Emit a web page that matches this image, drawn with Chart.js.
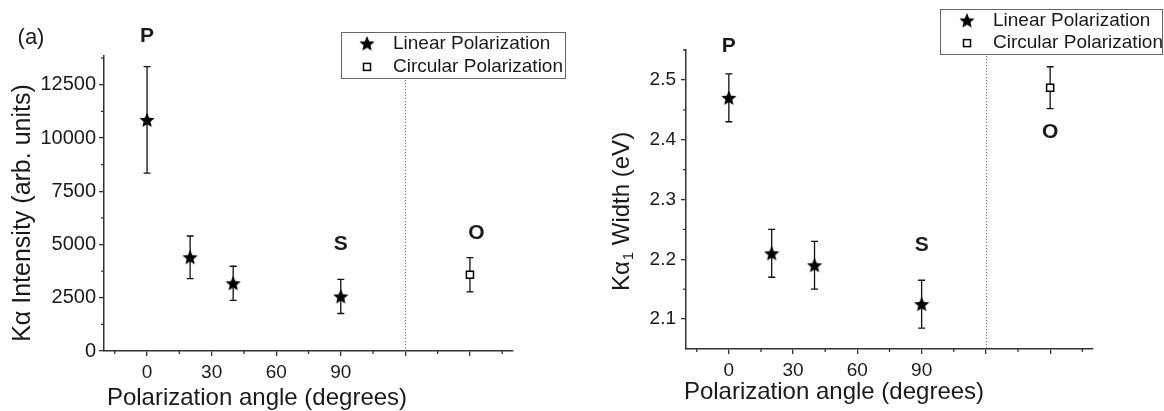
<!DOCTYPE html>
<html><head><meta charset="utf-8">
<script src="https://cdn.jsdelivr.net/npm/chart.js@4.4.1/dist/chart.umd.min.js"></script>
<style>
html,body{margin:0;padding:0;background:#fff;}
#wrap{position:relative;width:1164px;height:411px;overflow:hidden;}
canvas{position:absolute;top:0;}
</style></head><body>
<div id="wrap">
<canvas id="ca" width="582" height="411" style="left:0px"></canvas>
<canvas id="cb" width="582" height="411" style="left:582px"></canvas>
</div>
<script>
// ---------------- data ----------------
const angles = [0, 20, 40, 90];
const circularAngle = [150];
const intensityLinear = [10850, 4400, 3180, 2560];
const intensityLinearErr = [2500, 1000, 800, 800];
const intensityCircular = [3580];
const intensityCircularErr = [800];
const widthLinear = [2.47, 2.21, 2.19, 2.125];
const widthLinearErr = [0.04, 0.04, 0.04, 0.04];
const widthCircular = [2.487];
const widthCircularErr = [0.035];

const xMajorTicks = [0, 30, 60, 90, 120, 150];
const xTickLabels = ['0', '30', '60', '90', '', ''];
const xMinorTicks = [-15, 15, 45, 75, 105, 135, 165];
const intensityTicks = [0, 2500, 5000, 7500, 10000, 12500];
const intensityTickLabels = ['0', '2500', '5000', '7500', '10000', '12500'];
const intensityMinorTicks = [1250, 3750, 6250, 8750, 11250, 13750];
const widthTicks = [2.1, 2.2, 2.3, 2.4, 2.5];
const widthTickLabels = ['2.1', '2.2', '2.3', '2.4', '2.5'];
const widthMinorTicks = [2.15, 2.25, 2.35, 2.45, 2.55];

const seriesNames = ['Linear Polarization', 'Circular Polarization'];
const panelLabels = ['(a)', '(b)'];
const pointLetters = ['P', 'S', 'O'];
const xTitle = 'Polarization angle (degrees)';
const yTitleA = 'K\u03B1 Intensity (arb. units)';
const yTitleB = ['K\u03B1', '1', ' Width (eV)'];
const separatorAngle = 120;

// ---------------- drawing helpers ----------------
const FONT = '"Liberation Sans", Arial, Helvetica, sans-serif';
const INK = '#1a1a1a';
const AXIS = '#333';

function makeStar(size) {
  const c = document.createElement('canvas');
  c.width = c.height = size;
  const g = c.getContext('2d');
  const R = size / 2, r = R * 0.45, cx = size / 2, cy = size / 2 + 0.6;
  g.beginPath();
  for (let k = 0; k < 10; k++) {
    const a = -Math.PI / 2 + k * Math.PI / 5;
    const rad = k % 2 ? r : R;
    g.lineTo(cx + rad * Math.cos(a), cy + rad * Math.sin(a));
  }
  g.closePath();
  g.fillStyle = '#000';
  g.fill();
  return c;
}
const star = makeStar(16);

const decor = {
  id: 'decor',
  beforeDatasetsDraw(chart, args, o) {
    const ctx = chart.ctx, xs = chart.scales.x, ys = chart.scales.y, ca = chart.chartArea;
    ctx.save();
    // minor ticks
    ctx.strokeStyle = AXIS; ctx.lineWidth = 1.3;
    ctx.beginPath();
    xMinorTicks.forEach(v => { const px = xs.getPixelForValue(v); ctx.moveTo(px, ca.bottom); ctx.lineTo(px, ca.bottom + 3); });
    o.yMinor.forEach(v => { const py = ys.getPixelForValue(v); ctx.moveTo(ca.left, py); ctx.lineTo(ca.left - 3, py); });
    ctx.stroke();
    // dotted separator
    const sx = Math.round(xs.getPixelForValue(separatorAngle)) + 0.5;
    ctx.strokeStyle = '#777'; ctx.lineWidth = 1; ctx.setLineDash([1.2, 1.8]);
    ctx.beginPath(); ctx.moveTo(sx, ca.top); ctx.lineTo(sx, ca.bottom); ctx.stroke();
    ctx.setLineDash([]);
    // error bars
    ctx.strokeStyle = '#111'; ctx.lineWidth = 1.3;
    chart.data.datasets.forEach((ds, di) => {
      const err = o.errors[di];
      ds.data.forEach((p, i) => {
        const px = xs.getPixelForValue(p.x);
        const yt = ys.getPixelForValue(p.y + err[i]);
        const yb = ys.getPixelForValue(p.y - err[i]);
        ctx.beginPath();
        ctx.moveTo(px, yt); ctx.lineTo(px, yb);
        ctx.moveTo(px - 3.5, yt); ctx.lineTo(px + 3.5, yt);
        ctx.moveTo(px - 3.5, yb); ctx.lineTo(px + 3.5, yb);
        ctx.stroke();
      });
    });
    ctx.restore();
  },
  afterDraw(chart, args, o) {
    const ctx = chart.ctx, xs = chart.scales.x, ys = chart.scales.y;
    ctx.save();
    ctx.fillStyle = INK;
    // letters
    ctx.font = 'bold 21px ' + FONT; ctx.textAlign = 'center'; ctx.textBaseline = 'middle';
    o.letters.forEach(l => ctx.fillText(l.t, xs.getPixelForValue(l.x), ys.getPixelForValue(l.y)));
    // panel label
    ctx.font = '22px ' + FONT;
    ctx.fillText(o.panel.t, o.panel.x, o.panel.y);
    // x title
    ctx.font = '24px ' + FONT;
    ctx.fillText(xTitle, o.xTitle.x, o.xTitle.y);
    // y title
    ctx.save();
    ctx.translate(o.yTitle.x, o.yTitle.y);
    ctx.rotate(-Math.PI / 2);
    if (typeof o.yTitle.t === 'string') {
      ctx.font = o.yTitle.size + 'px ' + FONT;
      ctx.fillText(o.yTitle.t, 0, 0);
    } else {
      const big = o.yTitle.size + 'px ' + FONT, small = Math.round(o.yTitle.size * 0.62) + 'px ' + FONT;
      ctx.font = big; const w0 = ctx.measureText(o.yTitle.t[0]).width, w2 = ctx.measureText(o.yTitle.t[2]).width;
      ctx.font = small; const w1 = ctx.measureText(o.yTitle.t[1]).width;
      let x = -(w0 + w1 + w2) / 2;
      ctx.textAlign = 'left';
      ctx.font = big; ctx.fillText(o.yTitle.t[0], x, 0); x += w0;
      ctx.font = small; ctx.fillText(o.yTitle.t[1], x + 1, 7); x += w1 + 1;
      ctx.font = big; ctx.fillText(o.yTitle.t[2], x, 0);
    }
    ctx.restore();
    // legend
    const L = o.legend;
    ctx.fillStyle = '#fff';
    ctx.fillRect(L.x, L.y, L.w, L.h);
    ctx.strokeStyle = '#666'; ctx.lineWidth = 1;
    ctx.strokeRect(L.x + 0.5, L.y + 0.5, L.w, L.h);
    ctx.font = '19px ' + FONT; ctx.textAlign = 'left'; ctx.fillStyle = INK;
    chart.data.datasets.forEach((ds, i) => {
      const ry = L.y + L.row0 + i * L.gap;
      if (i === 0) ctx.drawImage(star, L.mx - 8, ry - 8);
      else { ctx.fillStyle = '#fff'; ctx.strokeStyle = '#000'; ctx.lineWidth = 1.5; ctx.fillRect(L.mx - 3.5, ry - 3.5, 7, 7); ctx.strokeRect(L.mx - 3.5, ry - 3.5, 7, 7); ctx.fillStyle = INK; }
      ctx.fillText(ds.label, L.tx, ry);
    });
    ctx.restore();
  }
};

function makeChart(id, cfg) {
  const tickFont = { family: FONT, size: 19 };
  return new Chart(document.getElementById(id), {
    type: 'scatter',
    data: {
      datasets: [
        { label: seriesNames[0], data: angles.map((a, i) => ({ x: a, y: cfg.lin[i] })),
          pointStyle: star, pointRadius: 8, pointHoverRadius: 8, showLine: false },
        { label: seriesNames[1], data: circularAngle.map((a, i) => ({ x: a, y: cfg.circ[i] })),
          pointStyle: 'rect', pointRadius: 5, pointHoverRadius: 5, backgroundColor: '#fff', borderColor: '#000', borderWidth: 1.5, showLine: false }
      ]
    },
    options: {
      responsive: false, animation: false, devicePixelRatio: 1,
      layout: { padding: { left: 0, right: cfg.padRight, top: cfg.padTop, bottom: 0 } },
      plugins: { legend: { display: false }, tooltip: { enabled: false }, decor: cfg.decor },
      scales: {
        x: {
          type: 'linear', min: -20, max: 170,
          afterFit: s => { s.height = cfg.xH; },
          afterBuildTicks: s => { s.ticks = xMajorTicks.map(v => ({ value: v })); },
          ticks: { autoSkip: false, maxRotation: 0, font: tickFont, color: INK, padding: 5,
                   callback: (v, i) => xTickLabels[i] },
          grid: { drawOnChartArea: false, tickLength: 5, color: AXIS, lineWidth: 1.3 },
          border: { color: AXIS, width: 1.5 }
        },
        y: {
          type: 'linear', min: cfg.yMin, max: cfg.yMax,
          afterFit: s => { s.width = cfg.yW; },
          afterBuildTicks: s => { s.ticks = cfg.yTicks.map(v => ({ value: v })); },
          ticks: { autoSkip: false, font: { family: FONT, size: cfg.yFont }, color: INK, padding: cfg.yPad,
                   callback: (v, i) => cfg.yLabels[i] },
          grid: { drawOnChartArea: false, tickLength: 5, color: AXIS, lineWidth: 1.3 },
          border: { color: AXIS, width: 1.5 }
        }
      }
    },
    plugins: [decor]
  });
}

makeChart('ca', {
  lin: intensityLinear, circ: intensityCircular,
  yMin: 0, yMax: 13850, yTicks: intensityTicks, yLabels: intensityTickLabels,
  padRight: 69, padTop: 56, xH: 60, yW: 104, yFont: 20, yPad: 3,
  decor: {
    yMinor: intensityMinorTicks,
    errors: [intensityLinearErr, intensityCircularErr],
    letters: [{ t: pointLetters[0], x: 0, y: 14800 }, { t: pointLetters[1], x: 90, y: 5000 }, { t: pointLetters[2], x: 153, y: 5520 }],
    panel: { t: panelLabels[0], x: 31, y: 38 },
    xTitle: { x: 257, y: 398 },
    yTitle: { t: yTitleA, x: 23, y: 213, size: 25 },
    legend: { x: 341, y: 32, w: 224, h: 46, row0: 11.5, gap: 23.4, mx: 367, tx: 393 }
  }
});

makeChart('cb', {
  lin: widthLinear, circ: widthCircular,
  yMin: 2.05, yMax: 2.55, yTicks: widthTicks, yLabels: widthTickLabels,
  padRight: 71, padTop: 50, xH: 62, yW: 104, yFont: 19, yPad: 5,
  decor: {
    yMinor: widthMinorTicks,
    errors: [widthLinearErr, widthCircularErr],
    letters: [{ t: pointLetters[0], x: 0, y: 2.557 }, { t: pointLetters[1], x: 90, y: 2.223 }, { t: pointLetters[2], x: 150, y: 2.412 }],
    panel: { t: panelLabels[1], x: 622, y: 39 },
    xTitle: { x: 252, y: 392 },
    yTitle: { t: yTitleB, x: 40, y: 212, size: 24 },
    legend: { x: 358, y: 9, w: 222, h: 45, row0: 11.5, gap: 22.6, mx: 385, tx: 411 }
  }
});
</script>
</body></html>
